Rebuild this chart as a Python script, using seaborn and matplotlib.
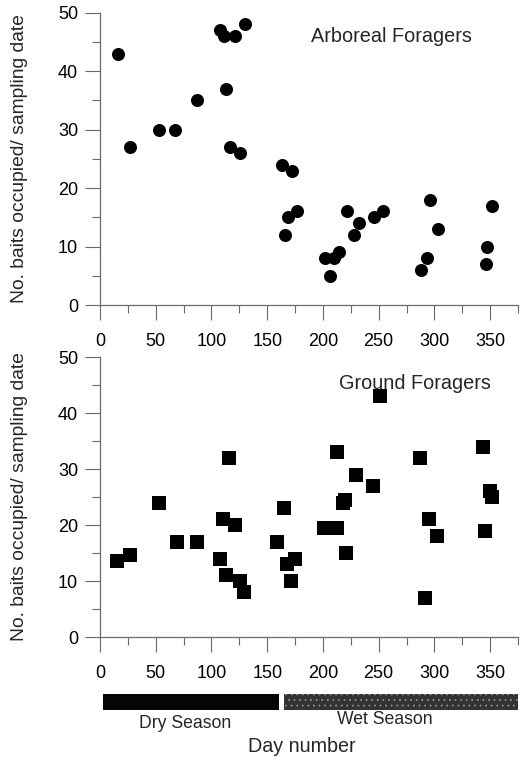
import numpy as np
import pandas as pd
import matplotlib
matplotlib.use("Agg")
import matplotlib.pyplot as plt
import seaborn as sns
from matplotlib.ticker import MultipleLocator

# ---------------- data ----------------
arb_day = [16, 27, 53, 67, 87, 108, 111, 121, 130, 113, 117, 126, 163, 172,
           166, 169, 177, 202, 206, 210, 214, 222, 228, 232, 246, 254,
           288, 293, 296, 303, 346, 347, 352]
arb_baits = [43, 27, 30, 30, 35, 47, 46, 46, 48, 37, 27, 26, 24, 23,
             12, 15, 16, 8, 5, 8, 9, 16, 12, 14, 15, 16,
             6, 8, 18, 13, 7, 10, 17]

gr_day = [15, 27, 53, 69, 87, 108, 110, 116, 121, 113, 126, 129,
          159, 165, 168, 171, 175, 201, 207, 213, 213, 218, 220, 221, 230,
          245, 251, 287, 292, 295, 302, 344, 345, 350, 352]
gr_baits = [13.5, 14.7, 24, 17, 17, 14, 21, 32, 20, 11, 10, 8,
            17, 23, 13, 10, 14, 19.5, 19.5, 19.5, 33, 24, 24.5, 15, 29,
            27, 43, 32, 7, 21, 18, 34, 19, 26, 25]

season_names = ["Dry Season", "Wet Season"]
season_start = [3, 165]
season_end = [161, 375]
season_colors = ["#050505", "#333333"]

panel_titles = ["Arboreal Foragers", "Ground Foragers"]
y_label = "No. baits occupied/ sampling date"
x_label = "Day number"

# ---------------- style ----------------
sns.set_theme(style="white")
plt.rcParams["font.family"] = ["Liberation Sans", "DejaVu Sans"]
plt.rcParams["hatch.linewidth"] = 0.5

W, H = 521, 758
fig = plt.figure(figsize=(W / 100, H / 100), dpi=100)

def frac(x0, y0, x1, y1):
    return [x0 / W, 1 - y1 / H, (x1 - x0) / W, (y1 - y0) / H]

ax1 = fig.add_axes(frac(100, 12.7, 518, 305))
ax2 = fig.add_axes(frac(100, 357, 518, 637))
ax3 = fig.add_axes(frac(100, 694, 518, 710))

arb = pd.DataFrame({"day": arb_day, "baits": arb_baits})
gr = pd.DataFrame({"day": gr_day, "baits": gr_baits})

sns.scatterplot(data=arb, x="day", y="baits", ax=ax1, marker="o", s=88,
                color="black", edgecolor="black", linewidth=0, zorder=3)
sns.scatterplot(data=gr, x="day", y="baits", ax=ax2, marker="s", s=95,
                color="black", edgecolor="black", linewidth=0, zorder=3)

spine_col = "#6a6a6a"
for ax in (ax1, ax2):
    ax.set_xlim(0, 375)
    ax.set_ylim(0, 50)
    ax.xaxis.set_major_locator(MultipleLocator(50))
    ax.xaxis.set_minor_locator(MultipleLocator(25))
    ax.yaxis.set_major_locator(MultipleLocator(10))
    ax.yaxis.set_minor_locator(MultipleLocator(5))
    for s in ("top", "right"):
        ax.spines[s].set_visible(False)
    for s in ("left", "bottom"):
        ax.spines[s].set_color(spine_col)
        ax.spines[s].set_linewidth(0.9)
    ax.tick_params(which="major", direction="out", length=10.8, width=0.8,
                   color=spine_col, labelsize=13, labelcolor="black",
                   bottom=True, left=True)
    ax.tick_params(axis="x", which="major", pad=9)
    ax.tick_params(axis="y", which="major", pad=5)
    ax.tick_params(which="minor", direction="out", length=5.5, width=0.8,
                   color=spine_col, bottom=True, left=True)
    ax.set_xlabel("")
    ax.set_ylabel(y_label, fontsize=13.9)
    ax.yaxis.set_label_coords(-(100 - 28) / 418, 0.5)
    ax.set_facecolor("white")

ax1.text(0.698, 0.92, panel_titles[0], transform=ax1.transAxes,
         ha="center", va="center", fontsize=14.3)
ax2.text(0.754, 0.904, panel_titles[1], transform=ax2.transAxes,
         ha="center", va="center", fontsize=14.3)

# season bar
bars = ax3.barh([0, 0], [e - s for s, e in zip(season_start, season_end)],
                left=season_start, height=1.0, color=season_colors,
                edgecolor="none", linewidth=0)
bars.patches[1].set_hatch("...")
bars.patches[1].set_edgecolor("#9a9a9a")
bars.patches[1].set_linewidth(0)
ax3.set_xlim(0, 375)
ax3.set_ylim(-0.5, 0.5)
ax3.axis("off")
label_x = [185, 384.5]
label_y = [723, 720]
for name, lx, ly in zip(season_names, label_x, label_y):
    fig.text(lx / W, 1 - ly / H, name, ha="center", va="center", fontsize=12.7)
fig.text(302 / W, 1 - 747 / H, x_label, ha="center", va="center", fontsize=14.2)

fig.savefig("out.png", dpi=100, facecolor="white")
